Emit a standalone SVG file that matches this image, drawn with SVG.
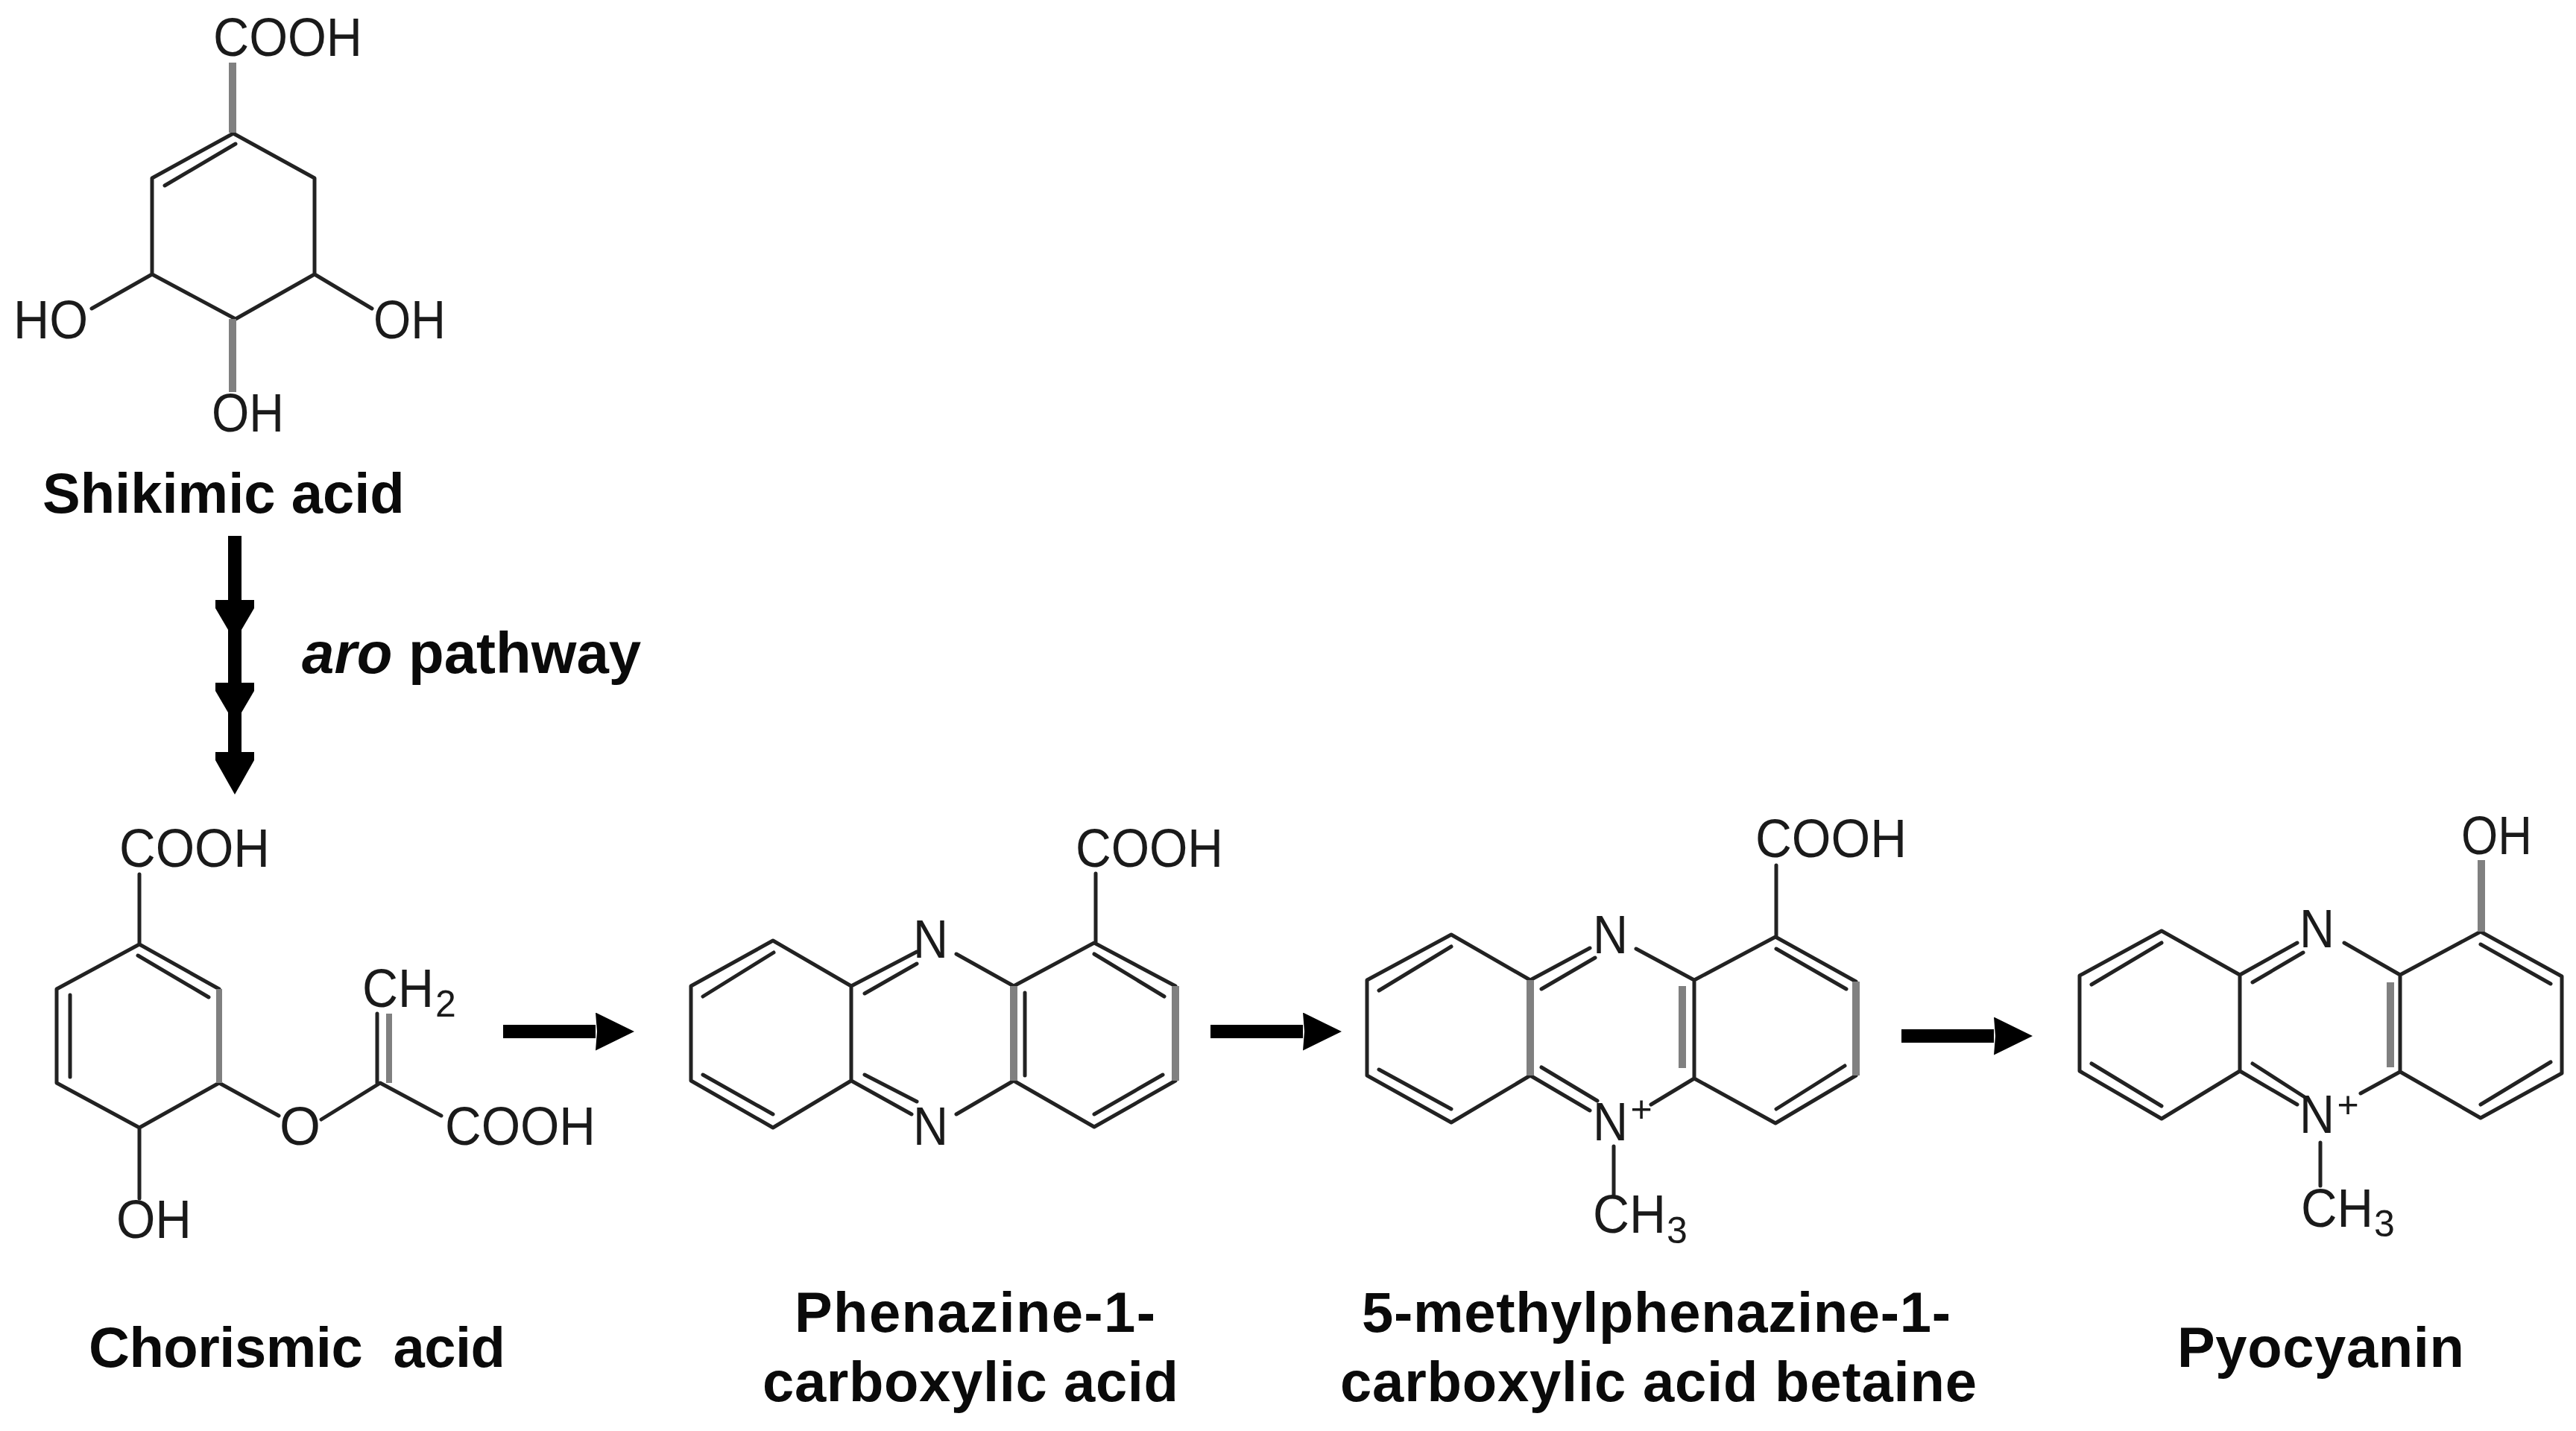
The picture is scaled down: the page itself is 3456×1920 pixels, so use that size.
<svg xmlns="http://www.w3.org/2000/svg" width="3456" height="1920" viewBox="0 0 3456 1920">
<style>
.b{fill:none;stroke:#222;stroke-width:5;stroke-linecap:round;stroke-linejoin:round}
.g{fill:none;stroke:#808080;stroke-width:10}
.t{font-family:"Liberation Sans",Arial,sans-serif;font-size:72px;fill:#1a1a1a}
.s{font-family:"Liberation Sans",Arial,sans-serif;font-size:50px;fill:#1a1a1a}
.l{font-family:"Liberation Sans",Arial,sans-serif;font-size:76px;font-weight:bold;fill:#0a0a0a;white-space:pre}
.a{stroke:#000;stroke-width:18;fill:none}
.h{fill:#000}
</style>
<defs>
<marker id="hh" markerUnits="userSpaceOnUse" viewBox="0 0 52 51" markerWidth="52" markerHeight="51" refX="0" refY="25.5" orient="auto"><path d="M0 0L52 25.5L0 51L2 25.5Z" fill="#000"/></marker>
<path id="vh" d="M-26 0H26V11L9 40H-9L-26 11Z"/>
</defs>
<rect width="3456" height="1920" fill="#fff"/>
<g id="connectors">
<line class="a" x1="315" y1="719" x2="315" y2="1045"/>
<use href="#vh" class="h" x="315" y="805"/>
<use href="#vh" class="h" x="315" y="916"/>
<path class="h" d="M289 1009H341V1020L315 1066L289 1020Z"/>
<line class="a" x1="675" y1="1384" x2="799" y2="1384" marker-end="url(#hh)"/>
<line class="a" x1="1624" y1="1384" x2="1748" y2="1384" marker-end="url(#hh)"/>
<line class="a" x1="2551" y1="1390" x2="2675" y2="1390" marker-end="url(#hh)"/>
</g>
<g id="shikimic-acid">
<path class="b" d="M313 179L204 239V368L316 428L422 368V239ZM221 249L316 193M204 368L123 414M422 368L499 414"/>
<path class="g" d="M312 84V178M312 428V526"/>
<text class="t" x="286" y="75" textLength="200" lengthAdjust="spacingAndGlyphs">COOH</text>
<text class="t" x="18" y="454" textLength="100" lengthAdjust="spacingAndGlyphs">HO</text>
<text class="t" x="501" y="454" textLength="97" lengthAdjust="spacingAndGlyphs">OH</text>
<text class="t" x="284" y="579" textLength="97" lengthAdjust="spacingAndGlyphs">OH</text>
<text class="l" x="57" y="688">Shikimic acid</text>
</g>
<g id="aro-pathway">
<text class="l" x="405" y="903" style="font-size:78px"><tspan font-style="italic">aro</tspan> pathway</text>
</g>
<g id="chorismic-acid">
<path class="b" d="M187 1173V1267L294 1327M187 1267L76 1327V1453L187 1513L294 1453M185 1282L280 1338M94 1335V1445M187 1513V1608M294 1453L374 1497M431 1502L510 1453L592 1497M506 1360V1453"/>
<path class="g" d="M294 1327V1453M522 1360V1453" style="stroke-width:8"/>
<text class="t" x="160" y="1163" textLength="202" lengthAdjust="spacingAndGlyphs">COOH</text>
<text class="t" x="156" y="1661" textLength="101" lengthAdjust="spacingAndGlyphs">OH</text>
<text class="t" x="375" y="1536" textLength="55" lengthAdjust="spacingAndGlyphs">O</text>
<text class="t" x="597" y="1536" textLength="202" lengthAdjust="spacingAndGlyphs">COOH</text>
<text class="t" x="486" y="1351" textLength="96" lengthAdjust="spacingAndGlyphs">CH</text>
<text class="s" x="584" y="1364">2</text>
<text class="l" x="119" y="1834" textLength="559">Chorismic  acid</text>
</g>
<g id="phenazine-1-carboxylic-acid">
<path class="b" d="M1037 1262L927 1323V1450L1037 1513L1142 1450V1323ZM1142 1323L1230 1277M1283 1280L1360 1323M1360 1450L1283 1495M1223 1495L1142 1450M1360 1323L1468 1265L1577 1323M1577 1450L1468 1512L1360 1450M943 1337L1038 1278M943 1442L1037 1495M1160 1333L1230 1293M1160 1442L1230 1478M1375 1332V1443M1468 1280L1562 1337M1560 1442L1468 1495M1470 1172V1265"/>
<path class="g" d="M1360 1323V1450M1577 1323V1450"/>
<text class="t" x="1225" y="1285" textLength="47" lengthAdjust="spacingAndGlyphs">N</text>
<text class="t" x="1225" y="1536" textLength="47" lengthAdjust="spacingAndGlyphs">N</text>
<text class="t" x="1443" y="1163" textLength="198" lengthAdjust="spacingAndGlyphs">COOH</text>
<text class="l" x="1066" y="1787" textLength="484">Phenazine-1-</text>
<text class="l" x="1023" y="1880" textLength="558">carboxylic acid</text>
</g>
<g id="5-methylphenazine-1-carboxylic-acid-betaine">
<path class="b" d="M1947 1254L1834 1315V1443L1947 1506L2053 1443V1315ZM2053 1315L2133 1272M2195 1273L2273 1315V1447L2215 1482M2133 1490L2053 1443M2273 1315L2382 1257L2490 1317M2490 1443L2382 1507L2273 1447M1850 1329L1947 1270M1850 1435L1947 1488M2068 1327L2140 1285M2068 1432L2143 1477M2383 1273L2477 1327M2475 1430L2383 1488M2383 1161V1257M2165 1538V1603"/>
<path class="g" d="M2053 1315V1443M2257 1323V1433M2490 1317V1443"/>
<text class="t" x="2137" y="1279" textLength="47" lengthAdjust="spacingAndGlyphs">N</text>
<text class="t" x="2137" y="1530" textLength="47" lengthAdjust="spacingAndGlyphs">N</text>
<text class="s" x="2202" y="1505" text-anchor="middle">+</text>
<text class="t" x="2355" y="1150" textLength="203" lengthAdjust="spacingAndGlyphs">COOH</text>
<text class="t" x="2137" y="1654" textLength="98" lengthAdjust="spacingAndGlyphs">CH</text>
<text class="s" x="2236" y="1668">3</text>
<text class="l" x="1827" y="1787" textLength="790">5-methylphenazine-1-</text>
<text class="l" x="1798" y="1880" textLength="854">carboxylic acid betaine</text>
</g>
<g id="pyocyanin">
<path class="b" d="M2900 1249L2790 1309V1437L2900 1501L3005 1437V1308ZM3005 1308L3082 1265M3145 1265L3220 1308V1438L3167 1467M3082 1482L3005 1437M3220 1308L3328 1250L3437 1310V1440L3328 1500L3220 1438M2806 1321L2900 1265M2806 1427L2900 1484M3022 1318L3090 1278M3022 1427L3092 1472M3328 1267L3422 1320M3422 1425L3328 1482M3113 1533V1591"/>
<path class="g" d="M3207 1318V1432M3329 1154V1250"/>
<text class="t" x="3085" y="1271" textLength="47" lengthAdjust="spacingAndGlyphs">N</text>
<text class="t" x="3085" y="1520" textLength="47" lengthAdjust="spacingAndGlyphs">N</text>
<text class="s" x="3150" y="1499" text-anchor="middle">+</text>
<text class="t" x="3302" y="1146" textLength="95" lengthAdjust="spacingAndGlyphs">OH</text>
<text class="t" x="3087" y="1646" textLength="97" lengthAdjust="spacingAndGlyphs">CH</text>
<text class="s" x="3185" y="1659">3</text>
<text class="l" x="2921" y="1834" textLength="385">Pyocyanin</text>
</g>
</svg>
